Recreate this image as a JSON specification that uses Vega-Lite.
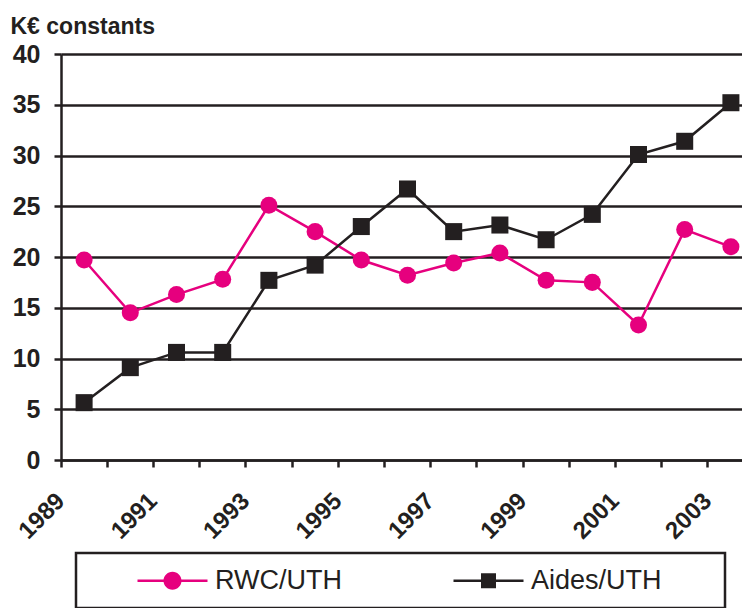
{
  "$schema": "https://vega.github.io/schema/vega-lite/v6.json",
  "width": 681,
  "height": 406,
  "autosize": {"type": "none"},
  "padding": {"left": 61, "top": 54, "right": 0, "bottom": 148},
  "background": "white",
  "config": {"view": {"stroke": null}, "legend": {"strokeWidth": 2.5}},
  "data": {"values": [
    {"year": 1989, "series": "RWC/UTH", "value": 19.7},
    {"year": 1990, "series": "RWC/UTH", "value": 14.5},
    {"year": 1991, "series": "RWC/UTH", "value": 16.3},
    {"year": 1992, "series": "RWC/UTH", "value": 17.8},
    {"year": 1993, "series": "RWC/UTH", "value": 25.1},
    {"year": 1994, "series": "RWC/UTH", "value": 22.5},
    {"year": 1995, "series": "RWC/UTH", "value": 19.7},
    {"year": 1996, "series": "RWC/UTH", "value": 18.2},
    {"year": 1997, "series": "RWC/UTH", "value": 19.4},
    {"year": 1998, "series": "RWC/UTH", "value": 20.4},
    {"year": 1999, "series": "RWC/UTH", "value": 17.7},
    {"year": 2000, "series": "RWC/UTH", "value": 17.5},
    {"year": 2001, "series": "RWC/UTH", "value": 13.3},
    {"year": 2002, "series": "RWC/UTH", "value": 22.7},
    {"year": 2003, "series": "RWC/UTH", "value": 21.0},
    {"year": 1989, "series": "Aides/UTH", "value": 5.65},
    {"year": 1990, "series": "Aides/UTH", "value": 9.1},
    {"year": 1991, "series": "Aides/UTH", "value": 10.6},
    {"year": 1992, "series": "Aides/UTH", "value": 10.6},
    {"year": 1993, "series": "Aides/UTH", "value": 17.7},
    {"year": 1994, "series": "Aides/UTH", "value": 19.2},
    {"year": 1995, "series": "Aides/UTH", "value": 23.0},
    {"year": 1996, "series": "Aides/UTH", "value": 26.7},
    {"year": 1997, "series": "Aides/UTH", "value": 22.5},
    {"year": 1998, "series": "Aides/UTH", "value": 23.15},
    {"year": 1999, "series": "Aides/UTH", "value": 21.7},
    {"year": 2000, "series": "Aides/UTH", "value": 24.2},
    {"year": 2001, "series": "Aides/UTH", "value": 30.1},
    {"year": 2002, "series": "Aides/UTH", "value": 31.4},
    {"year": 2003, "series": "Aides/UTH", "value": 35.2}
  ]},
  "encoding": {
    "x": {
      "field": "year", "type": "ordinal",
      "scale": {"type": "band", "range": [0, 693], "paddingInner": 0, "paddingOuter": 0},
      "axis": {"title": null, "bandPosition": 0, "labelOffset": -23, "labelExpr": "datum.value % 2 === 1 ? datum.label : ''", "labelAngle": -45, "labelAlign": "right", "labelBaseline": "middle", "labelPadding": 30, "labelFont": "Liberation Sans", "labelFontSize": 24, "labelFontWeight": "bold", "labelColor": "#231f20", "tickSize": 7, "tickWidth": 2.5, "tickColor": "#231f20", "domainColor": "#231f20", "domainWidth": 2.5, "grid": false, "labelOverlap": false, "labelBound": false}
    },
    "y": {
      "field": "value", "type": "quantitative",
      "scale": {"domain": [0, 40], "nice": false},
      "axis": {"title": "K€ constants", "titleAngle": 0, "titleX": -51, "titleY": -21, "titleAlign": "left", "titleBaseline": "alphabetic", "titleFont": "Liberation Sans", "titleFontSize": 23, "titleFontWeight": "bold", "titleColor": "#231f20",
        "values": [0, 5, 10, 15, 20, 25, 30, 35, 40], "grid": true, "gridColor": "#231f20", "gridWidth": 2.5, "gridOpacity": 1, "domainColor": "#231f20", "domainWidth": 2.5, "tickColor": "#231f20", "tickWidth": 2.5, "tickSize": 7, "labelPadding": 14, "labelFont": "Liberation Sans", "labelFontSize": 25, "labelFontWeight": "bold", "labelColor": "#231f20"}
    }
  },
  "layer": [
    {"mark": {"type": "line", "strokeWidth": 2.5},
     "encoding": {"color": {"field": "series", "type": "nominal", "scale": {"domain": ["RWC/UTH", "Aides/UTH"], "range": ["#e6007e", "#231f20"]}, "legend": null}}},
    {"mark": {"type": "point", "filled": true, "size": 290, "opacity": 1},
     "encoding": {
       "color": {"field": "series", "type": "nominal", "scale": {"domain": ["RWC/UTH", "Aides/UTH"], "range": ["#e6007e", "#231f20"]}, "legend": null},
       "shape": {"field": "series", "type": "nominal", "scale": {"domain": ["RWC/UTH", "Aides/UTH"], "range": ["circle", "square"]}, "legend": null}}},
    {"transform": [{"filter": "datum.value > 1000"}],
     "mark": {"type": "point", "filled": true, "size": 400, "opacity": 1},
     "encoding": {
       "color": {"field": "series", "type": "nominal", "scale": {"domain": ["RWC/UTH", "Aides/UTH"], "range": ["#e6007e", "#231f20"]},
         "legend": {"orient": "none", "legendX": 15, "legendY": 499, "direction": "horizontal", "title": " ", "titleOrient": "right", "titlePadding": 49, "titleFontSize": 10, "padding": 14, "symbolOffset": 69, "symbolSize": 400, "symbolStrokeWidth": 0, "labelOffset": 29, "columnPadding": 64, "labelFont": "Liberation Sans", "labelFontSize": 27, "labelColor": "#231f20", "labelLimit": 600, "strokeColor": "#231f20"}},
       "shape": {"field": "series", "type": "nominal", "scale": {"domain": ["RWC/UTH", "Aides/UTH"], "range": ["M-3.5,-0.125H3.5V0.125H-3.5Z M0.9,0A0.9,0.9,0,1,1,-0.9,0A0.9,0.9,0,1,1,0.9,0Z", "M-3.5,-0.125H3.5V0.125H-3.5Z M-0.75,-0.75H0.75V0.75H-0.75Z"]},
         "legend": {"orient": "none", "legendX": 15, "legendY": 499, "direction": "horizontal", "title": " ", "titleOrient": "right", "titlePadding": 49, "titleFontSize": 10, "padding": 14, "symbolOffset": 69, "symbolSize": 400, "symbolStrokeWidth": 0, "labelOffset": 29, "columnPadding": 64, "labelFont": "Liberation Sans", "labelFontSize": 27, "labelColor": "#231f20", "labelLimit": 600, "strokeColor": "#231f20"}}}}
  ],
  "resolve": {"scale": {"color": "independent", "shape": "independent"}}
}
